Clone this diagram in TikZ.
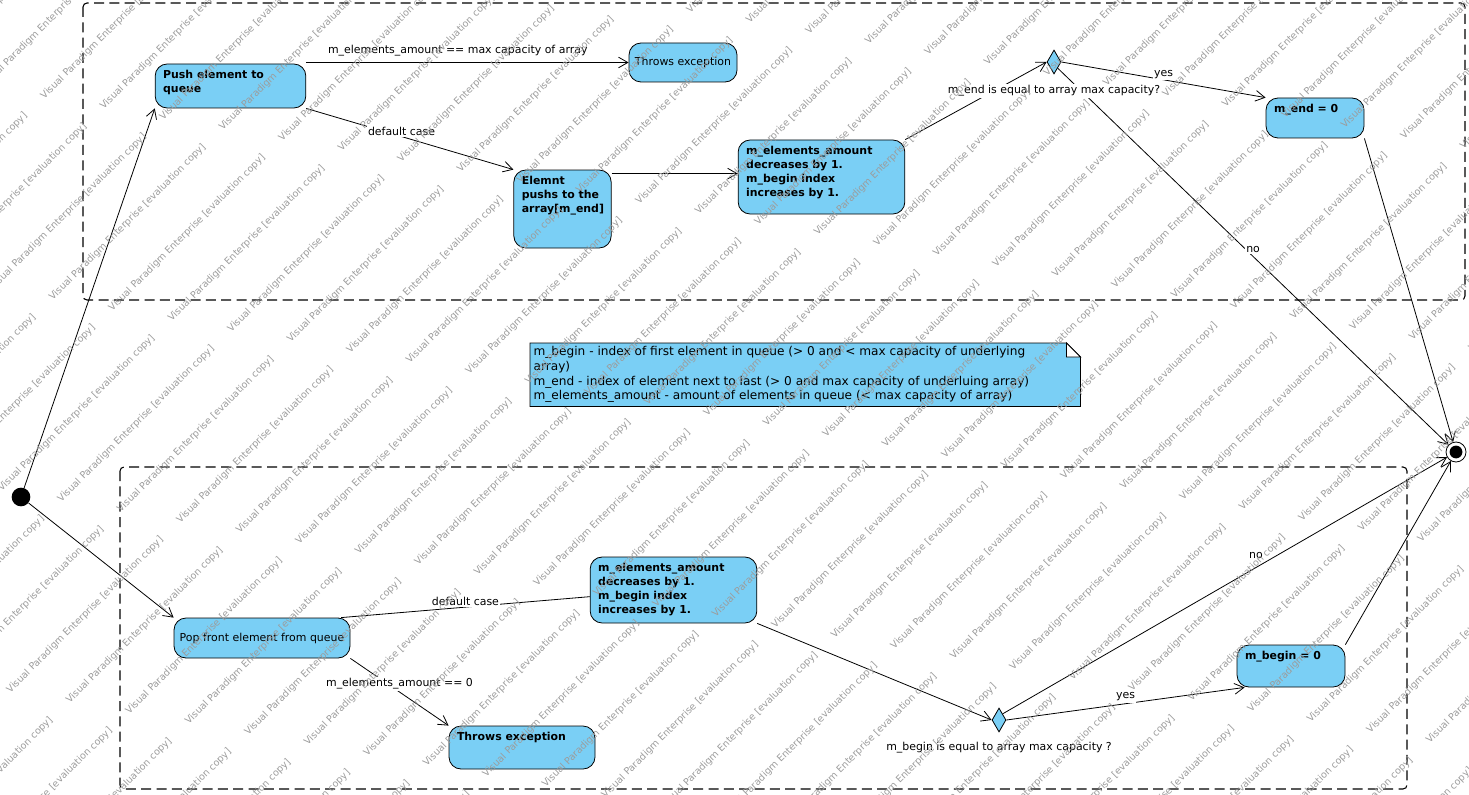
\documentclass[tikz,border=0pt]{standalone}
\usepackage{fontspec}
\setmainfont{DejaVu Sans}
\usepackage{tikz}
\usetikzlibrary{arrows.meta,shapes.geometric,positioning,backgrounds}
\definecolor{stateblue}{HTML}{7ACFF5}
\definecolor{markgray}{HTML}{9C9C9C}
\newcommand{\boxtext}[3]{\parbox[c][#2][t]{#1}{\raggedright #3}}

\begin{document}
\begin{tikzpicture}[x=0.75pt,y=-0.75pt,
  every node/.style={font=\fontsize{8.2}{10.5}\selectfont},
  state/.style={draw, fill=stateblue, rounded corners=9pt, line width=0.6pt, inner xsep=6pt, inner ysep=5pt},
  boldstate/.style={state, font=\fontsize{8.2}{10.5}\selectfont\bfseries},
  choice/.style={draw, fill=stateblue, diamond, line width=0.6pt, inner sep=0pt, minimum width=10.5pt, minimum height=18pt},
  trans/.style={line width=0.6pt, -{Straight Barb[length=7pt,width=8pt]}},
  guard/.style={fill=white, inner sep=1pt},
  region/.style={dash pattern=on 7.5pt off 4pt, line width=0.8pt, rounded corners=3pt},
  wmark/.style={text=markgray, rotate=45, font=\fontsize{7.2}{8}\selectfont, inner sep=0pt}
]
\useasboundingbox (0,0) rectangle (1469,795);

% regions
\draw[region] (83,3) rectangle (1465,300);
\draw[region] (120,467) rectangle (1407,789);

% start / end
\node[circle, fill=black, minimum size=14pt, inner sep=0pt] (init) at (21,497) {};
\node[draw, circle, fill=white, line width=0.6pt, minimum size=15pt, inner sep=0pt] (final) at (1456,452) {};
\fill (final.center) circle (4.8pt);

% push part
\node[boldstate] (push) at (230.5,86) {\boxtext{101pt}{23pt}{Push element to\\queue}};
\node[state, minimum width=81pt, minimum height=29.25pt, inner xsep=2pt] (throws1) at (683,62.5) {Throws exception};
\node[boldstate] (elemnt) at (562.5,209) {\boxtext{61pt}{48.5pt}{Elemnt\\pushs to the\\array[m\_end]}};
\node[boldstate] (dec1) at (821.5,177) {\boxtext{113pt}{45.5pt}{m\_elements\_amount\\decreases by 1.\\m\_begin index\\increases by 1.}};
\node[choice] (d1) at (1054,62) {};
\node[boldstate] (mend) at (1315,118) {\boxtext{61.5pt}{20pt}{m\_end = 0}};

% pop part
\node[state, minimum width=132pt, minimum height=30pt, inner xsep=2pt] (pop) at (262,638) {Pop front element from queue};
\node[boldstate] (dec2) at (673.5,590) {\boxtext{113pt}{39.5pt}{m\_elements\_amount\\decreases by 1.\\m\_begin index\\increases by 1.}};
\node[boldstate] (throws2) at (522,747.5) {\boxtext{97.5pt}{22.25pt}{Throws exception}};
\node[choice] (d2) at (999,720) {};
\node[boldstate] (mbegin) at (1291,666) {\boxtext{69pt}{21.5pt}{m\_begin = 0}};

% note
\node[anchor=north west, inner sep=2.5pt, font=\fontsize{9.1}{11}\selectfont] (note) at (530,343)
  {\parbox[c][42.2pt][t]{407.5pt}{\raggedright m\_begin - index of first element in queue (> 0 and < max capacity of underlying\\array)\\m\_end - index of element next to last (> 0 and max capacity of underluing array)\\m\_elements\_amount - amount of elements in queue (< max capacity of array)}};
\begin{scope}[on background layer]
  \filldraw[fill=stateblue, line width=0.6pt] (note.north west) -- ([xshift=-10.5pt]note.north east)
    -- ([yshift=-10.5pt]note.north east) -- (note.south east) -- (note.south west) -- cycle;
  \filldraw[fill=white, line width=0.6pt] ([xshift=-10.5pt]note.north east)
    -- ([xshift=-10.5pt,yshift=-10.5pt]note.north east) -- ([yshift=-10.5pt]note.north east) -- cycle;
\end{scope}

% transitions, push
\draw[trans] (init) -- (push.south west);
\draw[trans] (push.north east |- throws1.west) -- node[above=1pt, pos=0.47] {m\_elements\_amount == max capacity of array} (throws1.west);
\draw[trans] (push.south east) -- node[guard, pos=0.46, yshift=4pt] {default case} (elemnt.north west);
\coordinate (e1) at ([yshift=-3pt]elemnt.north east);
\draw[trans] (e1) -- (e1 -| dec1.west);
\draw[trans] (dec1.north east) -- (d1.west);
\draw[trans] (d1.east) -- node[guard, pos=0.5, yshift=4pt] {yes} (mend.north west);
\draw[trans] (d1.south east) -- node[guard, pos=0.5, yshift=5pt] {no} (final);
\draw[trans] (mend.south east) -- (final);
\node[guard, below=7pt of d1] (q1) {m\_end is equal to array max capacity?};

% transitions, pop
\draw[trans] (init) -- (pop.north west);
\draw[line width=0.6pt] ([xshift=-7pt]pop.north east) -- node[guard, pos=0.5, yshift=4pt] {default case} ([yshift=-5pt]dec2.west);
\draw[trans] (pop.south east) -- node[guard, pos=0.5, yshift=6pt] {m\_elements\_amount == 0} (throws2.north west);
\draw[trans] (dec2.south east) -- (d2.west);
\draw[trans] (d2.north east) -- node[guard, pos=0.57, yshift=9pt] {no} (final);
\draw[trans] (d2.east) -- node[guard, pos=0.5, yshift=5pt] {yes} ([xshift=6pt]mbegin.south west);
\draw[trans] (mbegin.north east) -- (final);
\node[guard, below=6.5pt of d2] (q2) {m\_begin is equal to array max capacity ?};

% evaluation watermark
\begin{scope}
  \clip (0,0) rectangle (1469,795);
  \foreach \c in {0,70,...,2310}
    \foreach \k in {-9,...,6}
      \node[wmark] (wm-\c-\k) at ({\c/2+\k*170+0.35*\c}, {\c/2-\k*170-0.35*\c}) {Visual Paradigm Enterprise [evaluation copy]};
\end{scope}
\end{tikzpicture}
\end{document}
